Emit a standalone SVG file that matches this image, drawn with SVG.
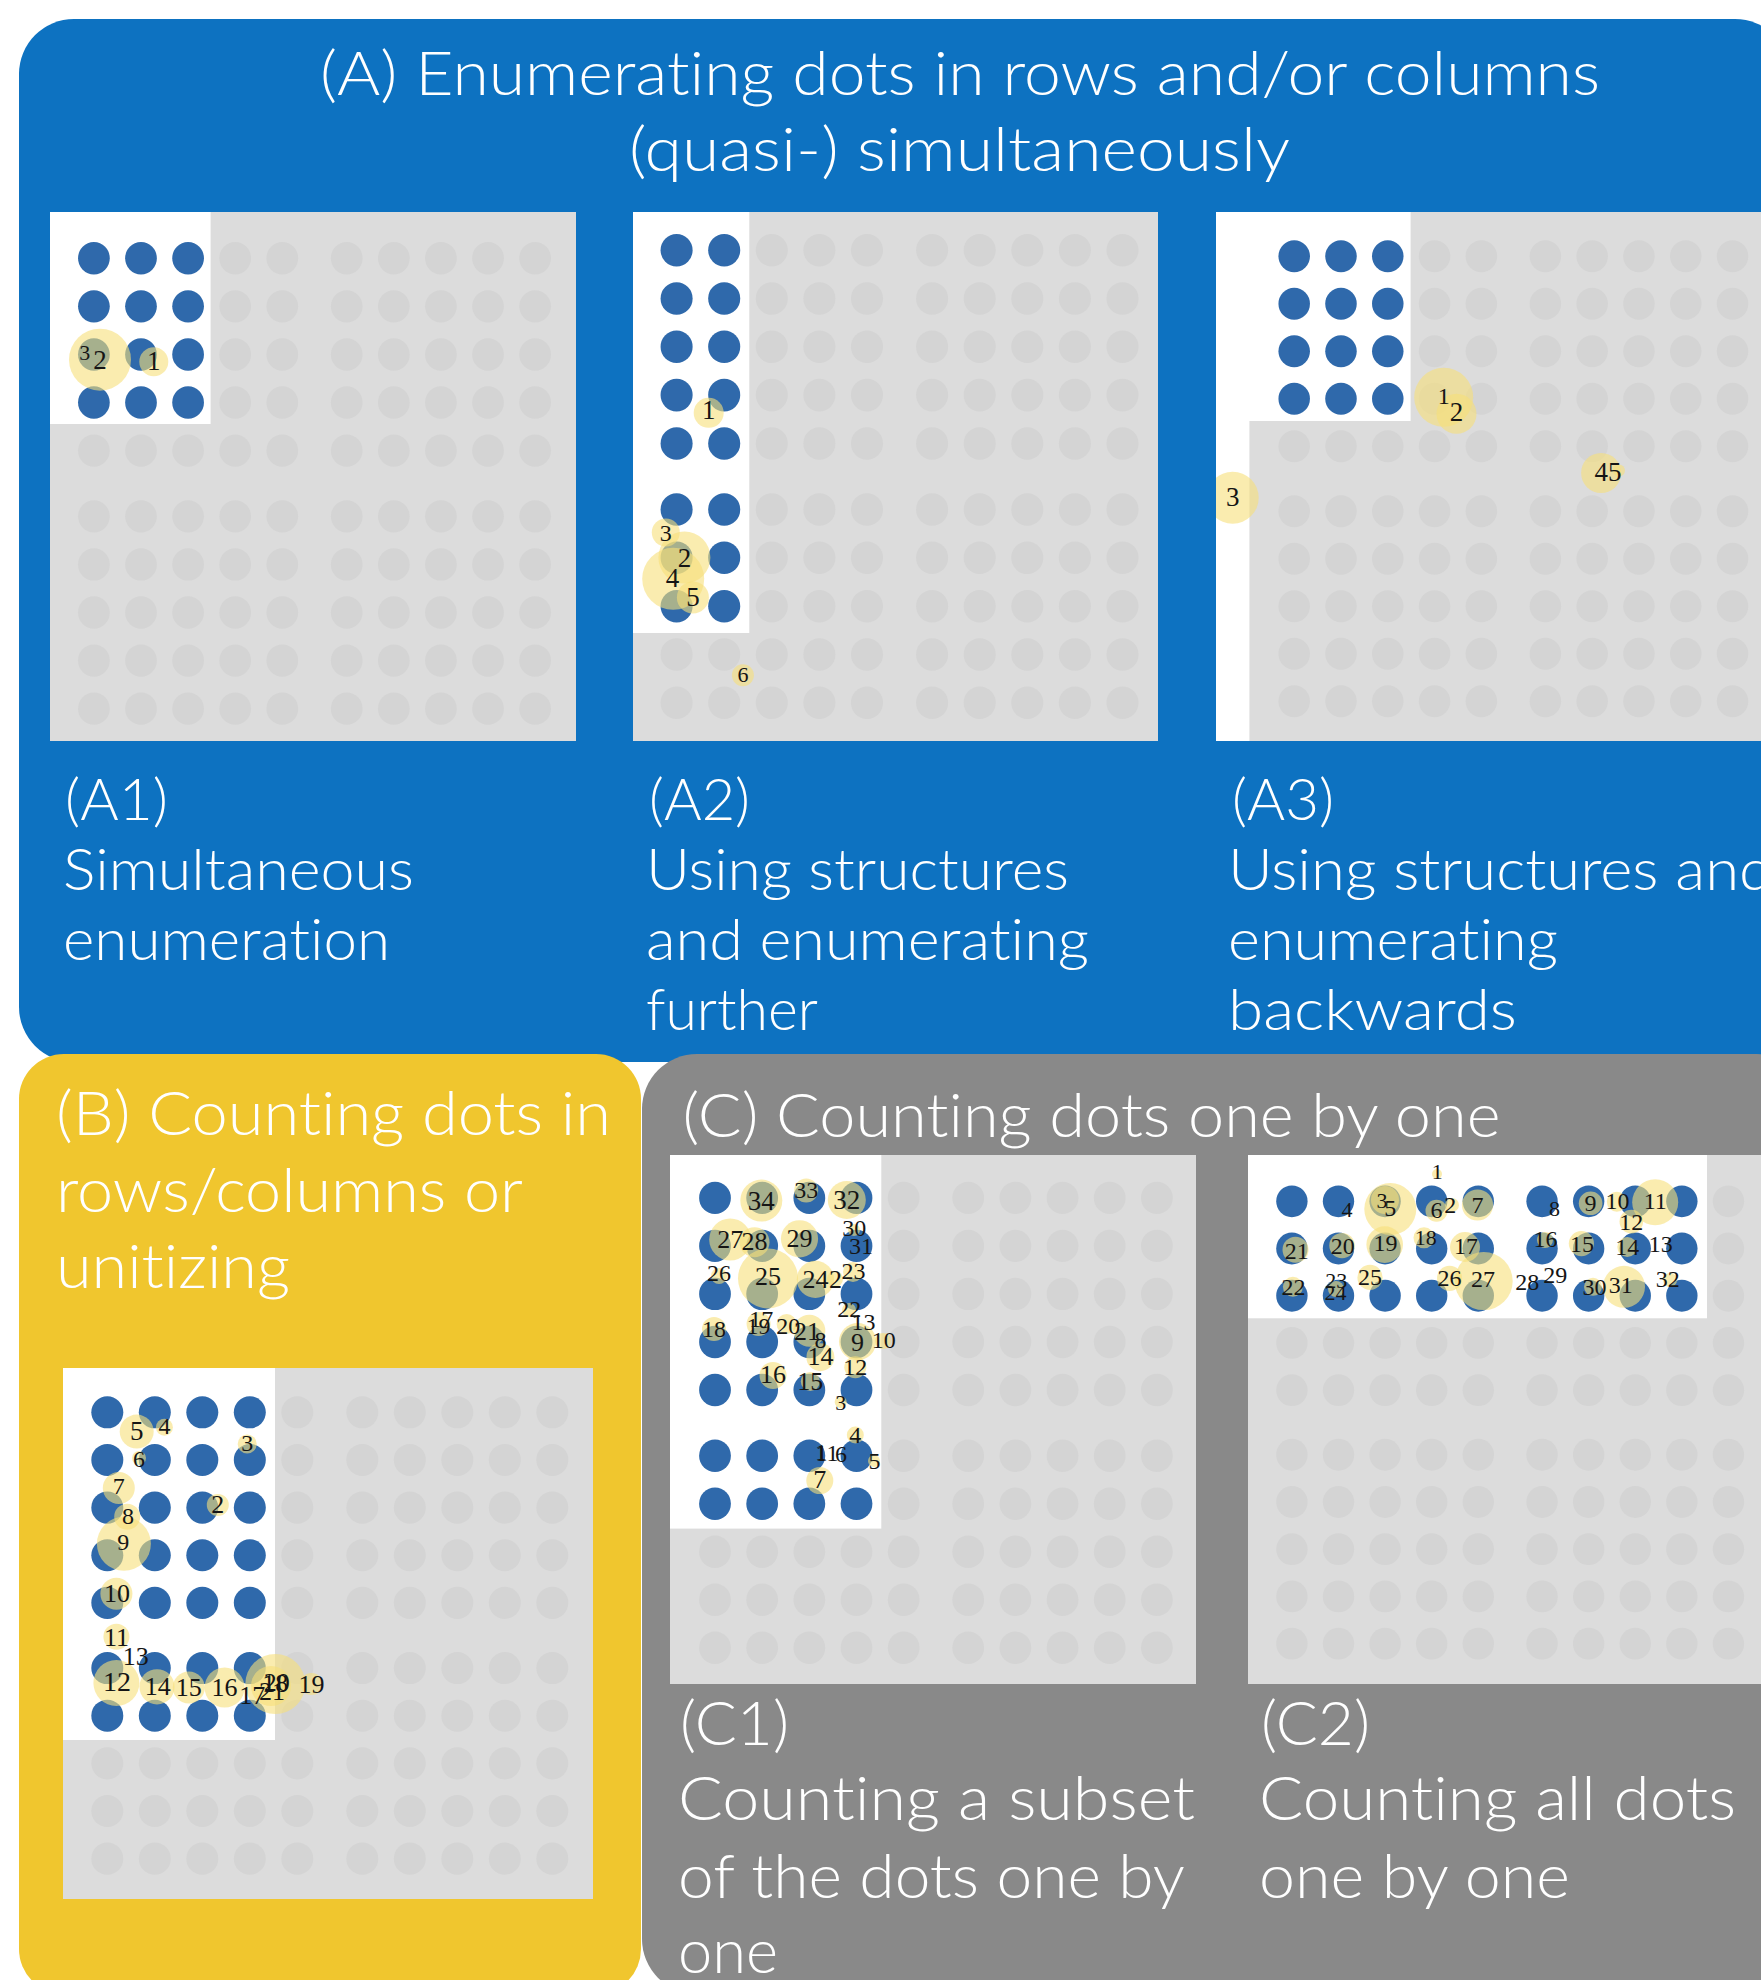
<svg xmlns="http://www.w3.org/2000/svg" xmlns:xlink="http://www.w3.org/1999/xlink" width="1761" height="1980" viewBox="0 0 1761 1980">
<style>
.bd{fill:#2F69AB}
.gd{fill:#D4D4D4}
.box{fill:#DCDCDC}
.wh{fill:#FFFFFF}
.hl{fill:#F7DF7A;opacity:.6}
.n{font-family:"Liberation Serif","Times New Roman",serif;fill:#151515;text-anchor:middle;font-size:26px}
.s22{font-size:22px}.s24{font-size:24px}.s27{font-size:27px}.s20{font-size:22px}.s28{font-size:28px}
.t{font-family:Lato,"Open Sans","Liberation Sans",sans-serif;font-weight:300;fill:#FFFFFF;font-variant-ligatures:none}
.h{font-size:62px}
.c{font-size:58px}
</style>
<defs>
  <!-- one row of ten grey dots, split into two blocks of five -->
  <g id="grow">
    <circle class="gd" cx="0" cy="0" r="16"/><circle class="gd" cx="47.5" cy="0" r="16"/><circle class="gd" cx="95" cy="0" r="16"/><circle class="gd" cx="142.5" cy="0" r="16"/><circle class="gd" cx="190" cy="0" r="16"/>
    <circle class="gd" cx="255" cy="0" r="16"/><circle class="gd" cx="302.5" cy="0" r="16"/><circle class="gd" cx="350" cy="0" r="16"/><circle class="gd" cx="397.5" cy="0" r="16"/><circle class="gd" cx="445" cy="0" r="16"/>
  </g>
  <!-- 10 x 10 grid -->
  <g id="grid">
    <use xlink:href="#grow" y="0"/><use xlink:href="#grow" y="47.5"/><use xlink:href="#grow" y="95"/><use xlink:href="#grow" y="142.5"/><use xlink:href="#grow" y="190"/>
    <use xlink:href="#grow" y="255"/><use xlink:href="#grow" y="302.5"/><use xlink:href="#grow" y="350"/><use xlink:href="#grow" y="397.5"/><use xlink:href="#grow" y="445"/>
  </g>
  <!-- rows of blue dots -->
  <g id="b2"><circle class="bd" cx="0" cy="0" r="16"/><circle class="bd" cx="47.5" cy="0" r="16"/></g>
  <g id="b3"><use xlink:href="#b2"/><circle class="bd" cx="95" cy="0" r="16"/></g>
  <g id="b4"><use xlink:href="#b3"/><circle class="bd" cx="142.5" cy="0" r="16"/></g>
  <g id="b9"><use xlink:href="#b4"/><circle class="bd" cx="190" cy="0" r="16"/><circle class="bd" cx="255" cy="0" r="16"/><circle class="bd" cx="302.5" cy="0" r="16"/><circle class="bd" cx="350" cy="0" r="16"/><circle class="bd" cx="397.5" cy="0" r="16"/></g>
  <clipPath id="clip-a1"><rect x="50" y="212" width="526" height="529"/></clipPath>
  <clipPath id="clip-a2"><rect x="633" y="212" width="525" height="529"/></clipPath>
  <clipPath id="clip-a3"><rect x="1216" y="212" width="560" height="529"/></clipPath>
  <clipPath id="clip-b"><rect x="63" y="1368" width="530" height="531"/></clipPath>
  <clipPath id="clip-c1"><rect x="670" y="1155" width="526" height="529"/></clipPath>
  <clipPath id="clip-c2"><rect x="1248" y="1155" width="530" height="529"/></clipPath>
</defs>

<rect width="1761" height="1980" fill="#FFFFFF"/>

<!-- ===== (A) blue container ===== -->
<g id="group-a">
  <rect x="19" y="19" width="1771" height="1043" rx="55" fill="#0D72C1"/>
  <text class="t h" x="320" y="95" textLength="1280" lengthAdjust="spacingAndGlyphs">(A) Enumerating dots in rows and/or columns</text>
  <text class="t h" x="629" y="171" textLength="661" lengthAdjust="spacingAndGlyphs">(quasi-) simultaneously</text>

  <!-- A1 -->
  <g id="a1" clip-path="url(#clip-a1)">
    <rect class="box" x="50" y="212" width="526" height="529"/>
    <use xlink:href="#grid" transform="translate(93.9 258.3) scale(0.9915 1.012)"/>
    <rect class="wh" x="50" y="212" width="160.6" height="212"/>
    <g transform="translate(93.9 258.3) scale(0.9915 1.012)">
      <use xlink:href="#b3" y="0"/><use xlink:href="#b3" y="47.5"/><use xlink:href="#b3" y="95"/><use xlink:href="#b3" y="142.5"/>
    </g>
    <circle class="hl" cx="100" cy="359.7" r="31"/>
    <circle class="hl" cx="153.8" cy="361.8" r="14.5"/>
    <text class="n s20" x="84.8" y="360">3</text>
    <text class="n s27" x="100" y="369">2</text>
    <text class="n s27" x="153.8" y="369.7">1</text>
  </g>
  <g id="a1-label">
    <text class="t c" x="65" y="820" textLength="103" lengthAdjust="spacingAndGlyphs">(A1)</text>
    <text class="t c" x="63" y="890" textLength="351" lengthAdjust="spacingAndGlyphs">Simultaneous</text>
    <text class="t c" x="63" y="960" textLength="327" lengthAdjust="spacingAndGlyphs">enumeration</text>
  </g>

  <!-- A2 -->
  <g id="a2" clip-path="url(#clip-a2)">
    <rect class="box" x="633" y="212" width="525" height="529"/>
    <use xlink:href="#grid" transform="translate(676.6 250.2) scale(1.002 1.017)"/>
    <rect class="wh" x="633" y="212" width="116.3" height="421"/>
    <g transform="translate(676.6 250.2) scale(1.002 1.017)">
      <use xlink:href="#b2" y="0"/><use xlink:href="#b2" y="47.5"/><use xlink:href="#b2" y="95"/><use xlink:href="#b2" y="142.5"/><use xlink:href="#b2" y="190"/>
      <use xlink:href="#b2" y="255"/><use xlink:href="#b2" y="302.5"/><use xlink:href="#b2" y="350"/>
    </g>
    <circle class="hl" cx="708.7" cy="412.8" r="15"/>
    <circle class="hl" cx="665.8" cy="532.5" r="14"/>
    <circle class="hl" cx="673.2" cy="578.8" r="31"/>
    <circle class="hl" cx="684.4" cy="557.5" r="26"/>
    <circle class="hl" cx="692.9" cy="597.4" r="16"/>
    <circle class="hl" cx="742.9" cy="675.2" r="11"/>
    <text class="n s27" x="708.7" y="419">1</text>
    <text class="n s24" x="665.8" y="540.5">3</text>
    <text class="n s27" x="684.4" y="566.5">2</text>
    <text class="n s27" x="672.6" y="586.8">4</text>
    <text class="n s27" x="692.9" y="605.7">5</text>
    <text class="n s22" x="742.9" y="682">6</text>
  </g>
  <g id="a2-label">
    <text class="t c" x="649" y="820" textLength="101" lengthAdjust="spacingAndGlyphs">(A2)</text>
    <text class="t c" x="646" y="890" textLength="423" lengthAdjust="spacingAndGlyphs">Using structures</text>
    <text class="t c" x="646" y="960" textLength="443" lengthAdjust="spacingAndGlyphs">and enumerating</text>
    <text class="t c" x="646" y="1030" textLength="172" lengthAdjust="spacingAndGlyphs">further</text>
  </g>

  <!-- A3 -->
  <g id="a3" clip-path="url(#clip-a3)">
    <rect class="box" x="1216" y="212" width="560" height="529"/>
    <use xlink:href="#grid" transform="translate(1294.2 256.3) scale(0.985 1)"/>
    <path class="wh" d="M1216 212H1410.6V421H1249.4V741H1216Z"/>
    <g transform="translate(1294.2 256.3) scale(0.985 1)">
      <use xlink:href="#b3" y="0"/><use xlink:href="#b3" y="47.5"/><use xlink:href="#b3" y="95"/><use xlink:href="#b3" y="142.5"/>
    </g>
    <circle class="hl" cx="1443.7" cy="397.3" r="29.5"/>
    <circle class="hl" cx="1456.5" cy="413.8" r="20"/>
    <circle class="hl" cx="1232.7" cy="497.7" r="26"/>
    <circle class="hl" cx="1601.1" cy="473" r="20"/>
    <circle class="hl" cx="1619" cy="470.6" r="6"/>
    <text class="n s24" x="1443.7" y="404">1</text>
    <text class="n s27" x="1456.5" y="421">2</text>
    <text class="n s27" x="1232.7" y="505.7">3</text>
    <text class="n s27" x="1608" y="480.6">45</text>
  </g>
  <g id="a3-label">
    <text class="t c" x="1232" y="820" textLength="102" lengthAdjust="spacingAndGlyphs">(A3)</text>
    <text class="t c" x="1228" y="890" textLength="545" lengthAdjust="spacingAndGlyphs">Using structures and</text>
    <text class="t c" x="1228" y="960" textLength="330" lengthAdjust="spacingAndGlyphs">enumerating</text>
    <text class="t c" x="1228" y="1030" textLength="289" lengthAdjust="spacingAndGlyphs">backwards</text>
  </g>
</g>

<!-- ===== (B) yellow container ===== -->
<g id="group-b">
  <rect x="19" y="1054" width="622" height="940" rx="45" fill="#F0C62E"/>
  <text class="t h" x="56" y="1135" textLength="555" lengthAdjust="spacingAndGlyphs">(B) Counting dots in</text>
  <text class="t h" x="56" y="1212" textLength="467" lengthAdjust="spacingAndGlyphs">rows/columns or</text>
  <text class="t h" x="56" y="1288" textLength="234" lengthAdjust="spacingAndGlyphs">unitizing</text>

  <g id="b" clip-path="url(#clip-b)">
    <rect class="box" x="63" y="1368" width="530" height="531"/>
    <use xlink:href="#grid" transform="translate(107.3 1412.3) scale(1 1.003)"/>
    <rect class="wh" x="63" y="1368" width="212" height="372"/>
    <g transform="translate(107.3 1412.3) scale(1 1.003)">
      <use xlink:href="#b4" y="0"/><use xlink:href="#b4" y="47.5"/><use xlink:href="#b4" y="95"/><use xlink:href="#b4" y="142.5"/><use xlink:href="#b4" y="190"/>
      <use xlink:href="#b4" y="255"/><use xlink:href="#b4" y="302.5"/>
    </g>
    <circle class="hl" cx="136.7" cy="1431.6" r="17"/>
    <circle class="hl" cx="164.4" cy="1427.2" r="8.5"/>
    <circle class="hl" cx="247.2" cy="1444" r="9.5"/>
    <circle class="hl" cx="139" cy="1458" r="7"/>
    <circle class="hl" cx="118.8" cy="1488" r="16"/>
    <circle class="hl" cx="217.8" cy="1504.9" r="11"/>
    <circle class="hl" cx="127.2" cy="1516.7" r="13"/>
    <circle class="hl" cx="123.9" cy="1543.8" r="27"/>
    <circle class="hl" cx="116.4" cy="1593.8" r="16"/>
    <circle class="hl" cx="116.4" cy="1636.8" r="13"/>
    <circle class="hl" cx="116.4" cy="1683" r="23"/>
    <circle class="hl" cx="157" cy="1686.8" r="17.6"/>
    <circle class="hl" cx="188.8" cy="1687.5" r="16"/>
    <circle class="hl" cx="224.6" cy="1687.5" r="20"/>
    <circle class="hl" cx="275.3" cy="1684" r="30"/>
    <circle class="hl" cx="271" cy="1686" r="20"/>
    <circle class="hl" cx="311.5" cy="1684" r="11"/>
    <text class="n s27" x="136.7" y="1439.5">5</text>
    <text class="n s24" x="164.4" y="1434.2">4</text>
    <text class="n s24" x="247.2" y="1451">3</text>
    <text class="n s24" x="139.1" y="1466.6">6</text>
    <text class="n s24" x="118.8" y="1494.3">7</text>
    <text class="n" x="217.8" y="1513">2</text>
    <text class="n s24" x="127.9" y="1523.7">8</text>
    <text class="n s24" x="123.2" y="1550">9</text>
    <text class="n" x="117.1" y="1602.2">10</text>
    <text class="n" x="116.4" y="1645.5">11</text>
    <text class="n" x="135.7" y="1664.7">13</text>
    <text class="n s28" x="117.1" y="1691">12</text>
    <text class="n" x="157.7" y="1695.2">14</text>
    <text class="n" x="188.8" y="1696.2">15</text>
    <text class="n" x="224.6" y="1696.2">16</text>
    <text class="n" x="252.3" y="1704">17</text>
    <text class="n" x="271.9" y="1699.6">21</text>
    <text class="n" x="275.3" y="1691.7">18</text>
    <text class="n" x="276.7" y="1691">20</text>
    <text class="n" x="311.5" y="1692.7">19</text>
  </g>
</g>

<!-- ===== (C) grey container ===== -->
<g id="group-c">
  <rect x="642" y="1054" width="1170" height="940" rx="55" fill="#898989"/>
  <text class="t h" x="682.5" y="1137" textLength="818" lengthAdjust="spacingAndGlyphs">(C) Counting dots one by one</text>

  <!-- C1 -->
  <g id="c1" clip-path="url(#clip-c1)">
    <rect class="box" x="670" y="1155" width="526" height="529"/>
    <use xlink:href="#grid" transform="translate(715 1197.9) scale(0.993 1.011)"/>
    <rect class="wh" x="670" y="1155" width="211.3" height="373.6"/>
    <g transform="translate(715 1197.9) scale(0.993 1.011)">
      <use xlink:href="#b4" y="0"/><use xlink:href="#b4" y="47.5"/><use xlink:href="#b4" y="95"/><use xlink:href="#b4" y="142.5"/><use xlink:href="#b4" y="190"/>
      <use xlink:href="#b4" y="255"/><use xlink:href="#b4" y="302.5"/>
    </g>
    <circle class="hl" cx="761.3" cy="1200.6" r="21"/>
    <circle class="hl" cx="806.2" cy="1190.5" r="12"/>
    <circle class="hl" cx="846.8" cy="1200" r="19"/>
    <circle class="hl" cx="854" cy="1230" r="6"/>
    <circle class="hl" cx="730.2" cy="1239.5" r="21"/>
    <circle class="hl" cx="754.5" cy="1242.2" r="15"/>
    <circle class="hl" cx="799.5" cy="1238.8" r="18.6"/>
    <circle class="hl" cx="719" cy="1276" r="8"/>
    <circle class="hl" cx="768" cy="1278.4" r="30"/>
    <circle class="hl" cx="815.4" cy="1279.4" r="18.6"/>
    <circle class="hl" cx="835" cy="1279" r="8"/>
    <circle class="hl" cx="853" cy="1272" r="10"/>
    <circle class="hl" cx="849" cy="1310" r="7"/>
    <circle class="hl" cx="714" cy="1329" r="12"/>
    <circle class="hl" cx="758.6" cy="1324" r="12"/>
    <circle class="hl" cx="786.6" cy="1324" r="10"/>
    <circle class="hl" cx="809.3" cy="1330.8" r="16"/>
    <circle class="hl" cx="820.4" cy="1357.2" r="14"/>
    <circle class="hl" cx="857.6" cy="1341.6" r="18.6"/>
    <circle class="hl" cx="883" cy="1341" r="8"/>
    <circle class="hl" cx="855.3" cy="1367.3" r="11"/>
    <circle class="hl" cx="773" cy="1375.4" r="13.5"/>
    <circle class="hl" cx="810.3" cy="1381.5" r="9.5"/>
    <circle class="hl" cx="840.7" cy="1402" r="6"/>
    <circle class="hl" cx="855.3" cy="1435" r="8.5"/>
    <circle class="hl" cx="874" cy="1461" r="6"/>
    <circle class="hl" cx="819.8" cy="1480.6" r="13.5"/>
    <text class="n s27" x="761.3" y="1209.6">34</text>
    <text class="n s24" x="806.2" y="1197.8">33</text>
    <text class="n s27" x="846.8" y="1209">32</text>
    <text class="n s24" x="854.2" y="1235.7">30</text>
    <text class="n s24" x="861" y="1253.6">31</text>
    <text class="n" x="730.2" y="1247.5">27</text>
    <text class="n" x="754.5" y="1250">28</text>
    <text class="n" x="799.5" y="1246.5">29</text>
    <text class="n s24" x="719" y="1281.3">26</text>
    <text class="n" x="768" y="1285.4">25</text>
    <text class="n" x="815.4" y="1288">24</text>
    <text class="n" x="835.6" y="1288">2</text>
    <text class="n s24" x="853.6" y="1279">23</text>
    <text class="n s24" x="849.2" y="1316.8">22</text>
    <text class="n s24" x="863.4" y="1330.3">13</text>
    <text class="n s24" x="714" y="1337">18</text>
    <text class="n s24" x="761.3" y="1327">17</text>
    <text class="n s24" x="758.6" y="1333.7">19</text>
    <text class="n s24" x="788.3" y="1333.7">20</text>
    <text class="n" x="806.9" y="1339.5">21</text>
    <text class="n s24" x="820.4" y="1348.3">8</text>
    <text class="n" x="820.4" y="1365">14</text>
    <text class="n" x="857.6" y="1351.3">9</text>
    <text class="n s24" x="883.7" y="1348.3">10</text>
    <text class="n s24" x="855.3" y="1375.3">12</text>
    <text class="n" x="773.1" y="1383.4">16</text>
    <text class="n" x="810.3" y="1390.2">15</text>
    <text class="n s22" x="840.7" y="1410">3</text>
    <text class="n s24" x="855.3" y="1443">4</text>
    <text class="n s24" x="821.1" y="1460">1</text>
    <text class="n s24" x="827" y="1460.5">11</text>
    <text class="n s24" x="841" y="1461.5">6</text>
    <text class="n s24" x="874.5" y="1469">5</text>
    <text class="n" x="819.8" y="1488.2">7</text>
  </g>
  <g id="c1-label">
    <text class="t h" x="680" y="1745" textLength="109" lengthAdjust="spacingAndGlyphs">(C1)</text>
    <text class="t h" x="678" y="1820" textLength="517" lengthAdjust="spacingAndGlyphs">Counting a subset</text>
    <text class="t h" x="678" y="1898" textLength="507" lengthAdjust="spacingAndGlyphs">of the dots one by</text>
    <text class="t h" x="678" y="1973" textLength="100" lengthAdjust="spacingAndGlyphs">one</text>
  </g>

  <!-- C2 -->
  <g id="c2" clip-path="url(#clip-c2)">
    <rect class="box" x="1248" y="1155" width="530" height="529"/>
    <use xlink:href="#grid" transform="translate(1291.9 1201.3) scale(0.981 0.994)"/>
    <rect class="wh" x="1248" y="1155" width="459" height="163.3"/>
    <g transform="translate(1291.9 1201.3) scale(0.981 0.994)">
      <use xlink:href="#b9" y="0"/><use xlink:href="#b9" y="47.5"/><use xlink:href="#b9" y="95"/>
    </g>
    <circle class="hl" cx="1437" cy="1174" r="5"/>
    <circle class="hl" cx="1390.3" cy="1209.1" r="26"/>
    <circle class="hl" cx="1385" cy="1200" r="14"/>
    <circle class="hl" cx="1436.5" cy="1210.8" r="11"/>
    <circle class="hl" cx="1452" cy="1205" r="7"/>
    <circle class="hl" cx="1477.5" cy="1205" r="15.6"/>
    <circle class="hl" cx="1590.6" cy="1203.3" r="11.8"/>
    <circle class="hl" cx="1616.8" cy="1201.7" r="10"/>
    <circle class="hl" cx="1655.2" cy="1202.3" r="23"/>
    <circle class="hl" cx="1631.3" cy="1221.6" r="11.8"/>
    <circle class="hl" cx="1295.5" cy="1249.7" r="13"/>
    <circle class="hl" cx="1342" cy="1245.6" r="12.7"/>
    <circle class="hl" cx="1384.7" cy="1244.6" r="18.3"/>
    <circle class="hl" cx="1424" cy="1237.8" r="10.5"/>
    <circle class="hl" cx="1465" cy="1247" r="15"/>
    <circle class="hl" cx="1545" cy="1240" r="8"/>
    <circle class="hl" cx="1581.4" cy="1243.6" r="12.6"/>
    <circle class="hl" cx="1627.3" cy="1247" r="10"/>
    <circle class="hl" cx="1292.9" cy="1286.8" r="10"/>
    <circle class="hl" cx="1336" cy="1289" r="8"/>
    <circle class="hl" cx="1370" cy="1277.4" r="12.6"/>
    <circle class="hl" cx="1449.6" cy="1278.4" r="12.6"/>
    <circle class="hl" cx="1483.7" cy="1281.1" r="29"/>
    <circle class="hl" cx="1593" cy="1286.8" r="9"/>
    <circle class="hl" cx="1624" cy="1286.8" r="21"/>
    <circle class="hl" cx="1670" cy="1280" r="7"/>
    <text class="n s22" x="1437.2" y="1179.4">1</text>
    <text class="n s22" x="1347" y="1216.6">4</text>
    <text class="n s22" x="1382.1" y="1208">3</text>
    <text class="n s24" x="1390.3" y="1216.4">5</text>
    <text class="n s24" x="1436.5" y="1218">6</text>
    <text class="n s24" x="1450.3" y="1213">2</text>
    <text class="n s24" x="1477.5" y="1213">7</text>
    <text class="n s22" x="1554.5" y="1215.6">8</text>
    <text class="n s24" x="1590.6" y="1211.3">9</text>
    <text class="n s24" x="1617.5" y="1208.6">10</text>
    <text class="n s24" x="1655.2" y="1209.3">11</text>
    <text class="n s24" x="1631.3" y="1229.6">12</text>
    <text class="n s24" x="1296.8" y="1258.7">21</text>
    <text class="n s24" x="1342.7" y="1253.6">20</text>
    <text class="n s24" x="1385.4" y="1250.9">19</text>
    <text class="n s22" x="1425.7" y="1245.3">18</text>
    <text class="n s24" x="1466" y="1253.6">17</text>
    <text class="n s24" x="1545.4" y="1246.8">16</text>
    <text class="n s24" x="1582" y="1251.6">15</text>
    <text class="n s24" x="1627.3" y="1255">14</text>
    <text class="n s24" x="1660.8" y="1251.6">13</text>
    <text class="n s24" x="1293.6" y="1294.8">22</text>
    <text class="n s22" x="1336.2" y="1288.3">23</text>
    <text class="n s22" x="1335.5" y="1300.4">24</text>
    <text class="n s24" x="1370" y="1285.4">25</text>
    <text class="n s24" x="1449.6" y="1286.4">26</text>
    <text class="n s24" x="1483" y="1287">27</text>
    <text class="n s24" x="1527.3" y="1289.8">28</text>
    <text class="n s24" x="1555.2" y="1283">29</text>
    <text class="n s24" x="1594.5" y="1294.8">30</text>
    <text class="n s24" x="1620.8" y="1293.2">31</text>
    <text class="n s24" x="1667.7" y="1287.4">32</text>
  </g>
  <g id="c2-label">
    <text class="t h" x="1261" y="1745" textLength="109" lengthAdjust="spacingAndGlyphs">(C2)</text>
    <text class="t h" x="1259" y="1820" textLength="477" lengthAdjust="spacingAndGlyphs">Counting all dots</text>
    <text class="t h" x="1259" y="1898" textLength="311" lengthAdjust="spacingAndGlyphs">one by one</text>
  </g>
</g>
</svg>
